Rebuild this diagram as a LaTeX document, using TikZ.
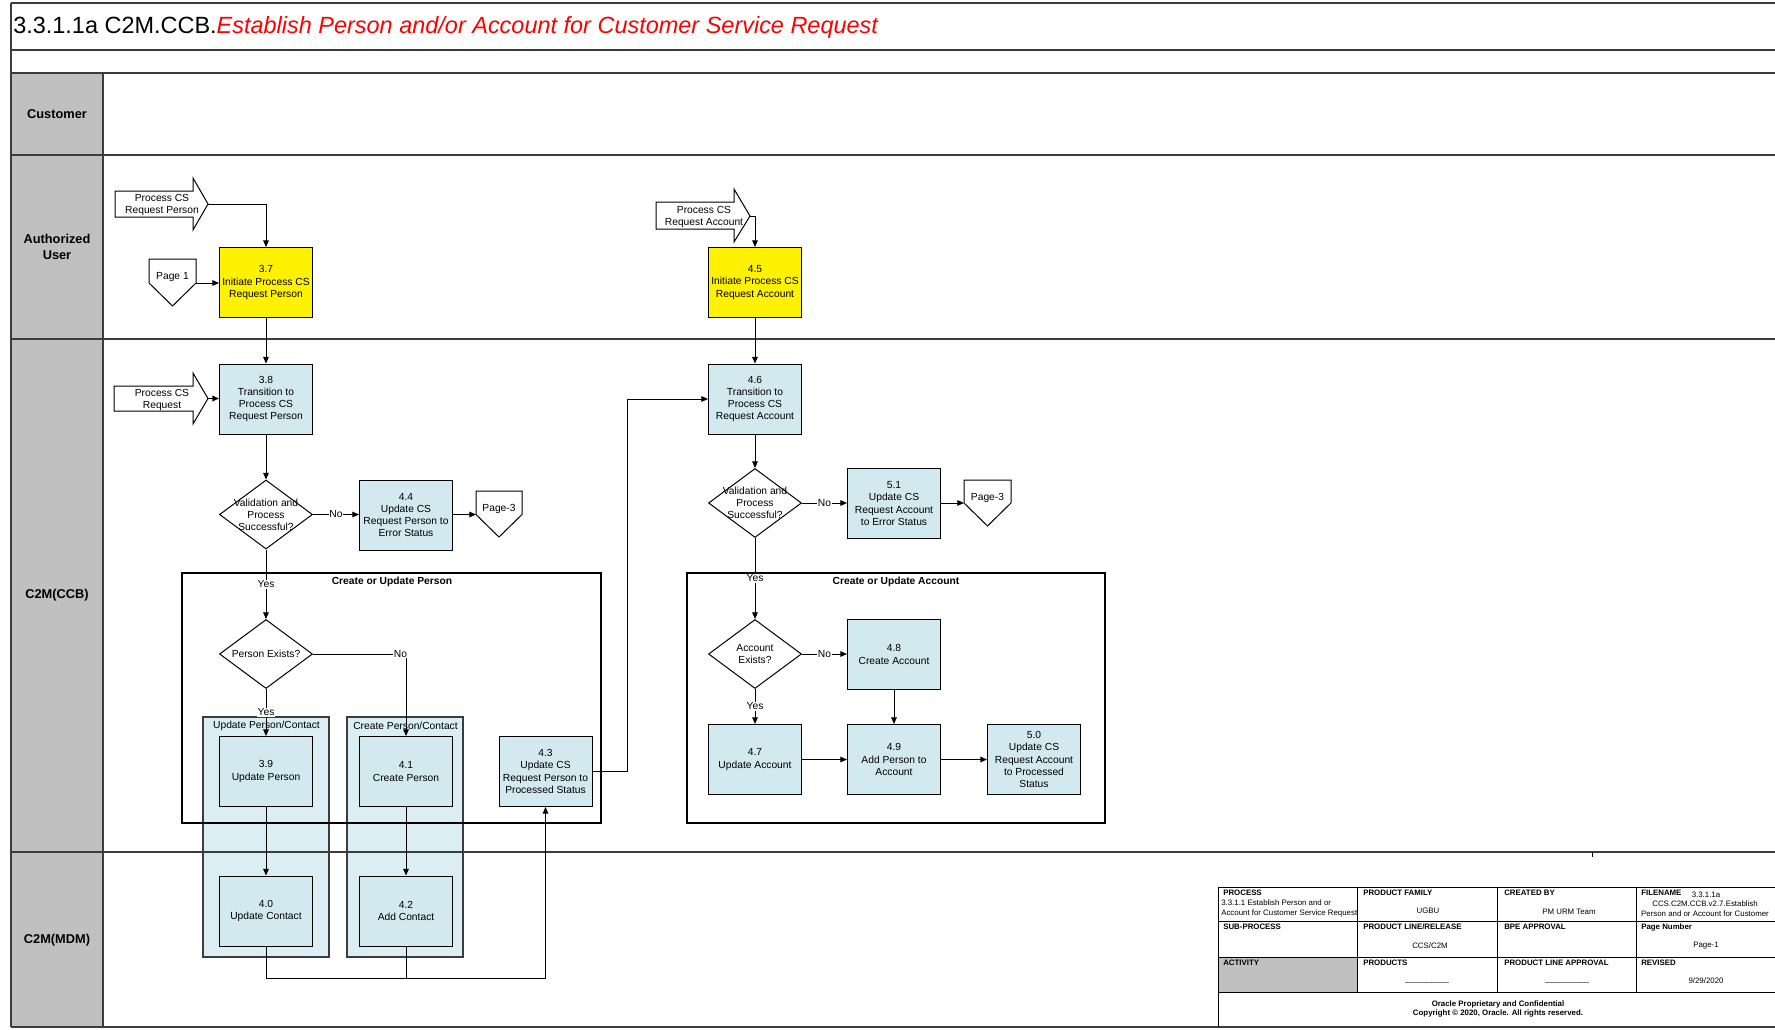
\documentclass[tikz,border=0pt]{standalone}
\usepackage{fontspec}
\setmainfont{Liberation Sans}
\usepackage{tikz}
\usetikzlibrary{arrows.meta,shapes.geometric,positioning}

\definecolor{taskblue}{RGB}{210,233,239}
\definecolor{grpblue}{RGB}{218,238,243}
\definecolor{lanegray}{RGB}{192,192,192}
\definecolor{linegray}{RGB}{60,60,60}

\newcommand{\boxfont}{\fontsize{7.7pt}{9.1pt}\selectfont}
\newcommand{\tblfont}{\fontsize{5.9pt}{7.3pt}\selectfont}

\begin{document}
\begin{tikzpicture}[x=0.75pt,y=0.75pt,yscale=-1,
  lane/.style={line width=1.1pt, draw=linegray},
  task/.style={draw, line width=0.75pt, fill=taskblue, minimum width=69.75pt, minimum height=52.5pt, inner sep=1pt, align=center, font=\boxfont},
  start/.style={task, fill=yellow},
  decide/.style={diamond, draw, line width=0.75pt, fill=white, minimum width=69.75pt, minimum height=51.75pt, inner sep=0pt},
  dtext/.style={font=\boxfont, align=center},
  yn/.style={fill=white, inner sep=0.6pt, font=\boxfont},
  flow/.style={-{Triangle[length=5pt,width=4.2pt]}, line width=0.75pt},
  link/.style={line width=0.75pt},
  blockarrow/.style={draw, line width=0.75pt, fill=white},
  offpage/.style={draw, line width=0.75pt, fill=white},
  grp/.style={draw=black, line width=0.8pt},
  subgrp/.style={draw=linegray, line width=0.9pt, fill=grpblue},
  lanetxt/.style={font=\fontsize{9.6pt}{12pt}\selectfont\bfseries, align=center},
  tblhead/.style={anchor=west, inner sep=0pt, font=\tblfont\bfseries},
  tbltxt/.style={inner sep=0pt, font=\tblfont, align=center}
]
\useasboundingbox (0,0) rectangle (1775,1029);

% lane label column
\fill[lanegray] (11,73) rectangle (103,1027);

% person/contact groups
\draw[subgrp] (203,717) rectangle (329,957);
\draw[subgrp] (347,717) rectangle (463,957);
\node[dtext] (gupd) at (266.5,726) {Update Person/Contact};
\node[dtext] (gcre) at (405.5,726) {Create Person/Contact};

% swimlane lines
\draw[lane] (11,3) -- (1775,3);
\draw[lane] (11,50) -- (1775,50);
\draw[lane] (11,73) -- (1775,73);
\draw[lane] (11,155) -- (1775,155);
\draw[lane] (11,339) -- (1775,339);
\draw[lane] (11,852) -- (1775,852);
\draw[lane] (11,1027) -- (1775,1027);
\draw[lane] (11,3) -- (11,1027);
\draw[lane] (103,73) -- (103,1027);
\draw[link] (1592,852) -- (1592,857);

% title
\node[anchor=west, inner sep=0pt, font=\fontsize{17.6pt}{20pt}\selectfont] (title) at (13,27) {3.3.1.1a C2M.CCB.\textcolor{red}{\itshape Establish Person and/or Account for Customer Service Request}};

% lane names
\node[lanetxt] (lcust) at (57,114) {Customer};
\node[lanetxt] (lauth) at (57,247) {Authorized\\User};
\node[lanetxt] (lccb) at (57,595) {C2M(CCB)};
\node[lanetxt] (lmdm) at (57,940) {C2M(MDM)};

% sub-process frames
\draw[grp] (182,573) rectangle (601,823);
\draw[grp] (687,573) rectangle (1105,823);
\node[font=\boxfont\bfseries] (gpers) at (392,582) {Create or Update Person};
\node[font=\boxfont\bfseries] (gacct) at (896,582) {Create or Update Account};

% incoming block arrows
\draw[blockarrow] (115,191) -- (193,191) -- (193,178) -- (208,204) -- (193,230) -- (193,217) -- (115,217) -- cycle;
\node[dtext] (inpers) at (162,205) {Process CS\\Request Person};
\coordinate (inpers-tip) at (208,204);

\draw[blockarrow] (114,386) -- (193,386) -- (193,373) -- (208,398.5) -- (193,424) -- (193,411) -- (114,411) -- cycle;
\node[dtext] (inreq) at (162,400) {Process CS\\Request};
\coordinate (inreq-tip) at (208,398.5);

\draw[blockarrow] (656,202) -- (734,202) -- (734,189) -- (750,216) -- (734,242) -- (734,229) -- (656,229) -- cycle;
\node[dtext] (inacct) at (704,217) {Process CS\\Request Account};
\coordinate (inacct-tip) at (750,216);

% off-page connectors
\draw[offpage] (149,259) -- (196,259) -- (196,283) -- (172.5,306) -- (149,283) -- cycle;
\node[dtext] (pg1) at (172.5,277) {Page 1};
\coordinate (pg1-out) at (196,283);

\draw[offpage] (476,491) -- (522,491) -- (522,514.5) -- (499,537) -- (476,514.5) -- cycle;
\node[dtext] (pg3a) at (499,509) {Page-3};
\coordinate (pg3a-in) at (476,514.5);

\draw[offpage] (964,480) -- (1011,480) -- (1011,503) -- (987.5,526) -- (964,503) -- cycle;
\node[dtext] (pg3b) at (987.5,498) {Page-3};
\coordinate (pg3b-in) at (964,503);

% activities
\node[start] (t37) at (266,282.5) {3.7\\Initiate Process CS\\Request Person};
\node[start] (t45) at (755,282.5) {4.5\\Initiate Process CS\\Request Account};
\node[task] (t38) at (266,399) {3.8\\Transition to\\Process CS\\Request Person};
\node[task] (t46) at (755,399) {4.6\\Transition to\\Process CS\\Request Account};
\node[decide, label={[dtext]center:{Validation and\\Process\\Successful?}}] (dvalp) at (266,514.5) {};
\node[task] (t44) at (406,515) {4.4\\Update CS\\Request Person to\\Error Status};
\node[decide, label={[dtext]center:{Validation and\\Process\\Successful?}}] (dvala) at (755,503) {};
\node[task] (t51) at (894,503.5) {5.1\\Update CS\\Request Account\\to Error Status};
\node[decide, label={[dtext]center:{Person Exists?}}] (dpers) at (266,654) {};
\node[decide, label={[dtext]center:{Account\\Exists?}}] (dacct) at (755,654) {};
\node[task] (t48) at (894,654.5) {4.8\\Create Account};
\node[task] (t39) at (266,771.5) {3.9\\Update Person};
\node[task] (t41) at (406,771.5) {4.1\\Create Person};
\node[task] (t43) at (545.5,771.5) {4.3\\Update CS\\Request Person to\\Processed Status};
\node[task] (t47) at (755,759.5) {4.7\\Update Account};
\node[task] (t49) at (894,759.5) {4.9\\Add Person to\\Account};
\node[task] (t50) at (1034,759.5) {5.0\\Update CS\\Request Account\\to Processed\\Status};
\node[task] (t40) at (266,911) {4.0\\Update Contact};
\node[task] (t42) at (406,911) {4.2\\Add Contact};

% person flow
\draw[flow] (inpers-tip) -| (t37.north);
\draw[flow] (pg1-out) -- (pg1-out -| t37.west);
\draw[flow] (t37) -- (t38);
\draw[flow] (inreq-tip) -- (inreq-tip -| t38.west);
\draw[flow] (t38) -- (dvalp);
\draw[flow] (dvalp) -- node[yn]{No} (dvalp -| t44.west);
\draw[flow] (t44.east |- pg3a-in) -- (pg3a-in);
\draw[flow] (dvalp) -- node[yn]{Yes} (dpers);
\draw[flow] (dpers) -- node[yn]{Yes} (t39);
\draw[flow] (dpers.east) -| node[yn, pos=0.47]{No} (t41.north);
\draw[flow] (t39) -- (t40);
\draw[flow] (t41) -- (t42);
\coordinate (mjoin) at (266,978);
\draw[flow] (t40.south) -- (mjoin) -| (t43.south);
\draw[link] (t42.south) -- (t42.south |- mjoin);
\draw[flow] (t43.east) -- ++(35,0) |- (t46.west);

% account flow
\draw[flow] (inacct-tip) -| (t45.north);
\draw[flow] (t45) -- (t46);
\draw[flow] (t46) -- (dvala);
\draw[flow] (dvala) -- node[yn]{No} (dvala -| t51.west);
\draw[flow] (t51.east |- pg3b-in) -- (pg3b-in);
\draw[flow] (dvala) -- node[yn]{Yes} (dacct);
\draw[flow] (dacct) -- node[yn]{No} (dacct -| t48.west);
\draw[flow] (dacct) -- node[yn]{Yes} (t47);
\draw[flow] (t47) -- (t49);
\draw[flow] (t48) -- (t49);
\draw[flow] (t49) -- (t50);

% title block
\fill[white] (1218,887) rectangle (1775,1026);
\fill[lanegray] (1218,957) rectangle (1357,992);
\draw[link] (1218,887) -- (1775,887);
\draw[link] (1218,921) -- (1775,921);
\draw[link] (1218,957) -- (1775,957);
\draw[link] (1218,992) -- (1775,992);
\draw[link] (1218,887) -- (1218,1027);
\draw[link] (1357,887) -- (1357,992);
\draw[link] (1497,887) -- (1497,992);
\draw[link] (1636,887) -- (1636,992);

\node[tblhead] (hproc) at (1223,893) {PROCESS};
\node[tbltxt, anchor=west, align=left] (vproc) at (1221,908.5) {3.3.1.1 Establish Person and or\\Account for Customer Service Request};
\node[tblhead] (hfam) at (1363,893) {PRODUCT FAMILY};
\node[tbltxt] (vfam) at (1428,911) {UGBU};
\node[tblhead] (hby) at (1504,893) {CREATED BY};
\node[tbltxt] (vby) at (1569,912) {PM URM Team};
\node[tblhead] (hfile) at (1641,893) {FILENAME};
\node[tbltxt] (vfile1) at (1706,895) {3.3.1.1a};
\node[tbltxt] (vfile2) at (1705,908.5) {CCS.C2M.CCB.v2.7.Establish\\Person and or Account for Customer};

\node[tblhead] (hsub) at (1223,927) {SUB-PROCESS};
\node[tblhead] (hrel) at (1363,927) {PRODUCT LINE/RELEASE};
\node[tbltxt] (vrel) at (1430,946) {CCS/C2M};
\node[tblhead] (hbpe) at (1504,927) {BPE APPROVAL};
\node[tblhead] (hpage) at (1641,927) {Page Number};
\node[tbltxt] (vpage) at (1706,946) {Page-1};

\node[tblhead] (hact) at (1223,963) {ACTIVITY};
\node[tblhead] (hprod) at (1363,963) {PRODUCTS};
\node[tbltxt] (vprod) at (1427,982) {\_\_\_\_\_\_\_\_\_\_};
\node[tblhead] (hpla) at (1504,963) {PRODUCT LINE APPROVAL};
\node[tbltxt] (vpla) at (1567,982) {\_\_\_\_\_\_\_\_\_\_};
\node[tblhead] (hrev) at (1641,963) {REVISED};
\node[tbltxt] (vrev) at (1706,981) {9/29/2020};

\node[tbltxt, font=\tblfont\bfseries] (copy) at (1498,1009) {Oracle Proprietary and Confidential\\Copyright © 2020, Oracle. All rights reserved.};

\end{tikzpicture}
\end{document}
